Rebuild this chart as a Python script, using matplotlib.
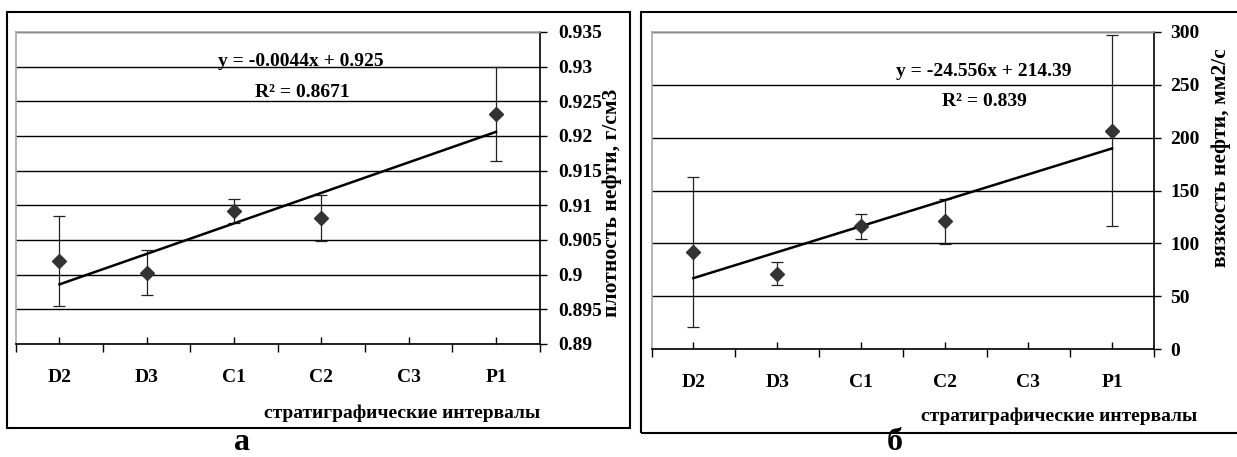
import numpy as np
import matplotlib
matplotlib.use("Agg")
import matplotlib.pyplot as plt
from matplotlib.ticker import MultipleLocator, FuncFormatter
from matplotlib.patches import Rectangle

plt.rcParams['font.family'] = ['Liberation Serif', 'DejaVu Serif']
plt.rcParams['font.weight'] = 'bold'

# ---- data ----
categories = ['D2', 'D3', 'C1', 'C2', 'C3', 'P1']
density = [0.902, 0.9003, 0.9092, 0.9082, np.nan, 0.9232]
density_err = [0.0065, 0.0033, 0.0017, 0.0033, np.nan, 0.0068]
viscosity = [91.7, 71.2, 116.3, 120.7, np.nan, 206.6]
viscosity_err = [71.2, 11.0, 11.9, 21.0, np.nan, 90.2]

dens_slope, dens_intercept, dens_r2 = -0.0044, 0.925, 0.8671
visc_slope, visc_intercept, visc_r2 = -24.556, 214.39, 0.839

W, H = 1237, 457
fig = plt.figure(figsize=(W / 100, H / 100), dpi=100)


def fx(px):
    return px / W


def fy(py):
    return 1 - py / H


FS = 14
YLFS = 15.5
GRAY = '#a8a8a8'
MARK = '#333333'

pos = np.arange(1, len(categories) + 1)


def make_panel(rect, vals, errs, slope, intercept, ylim, ystep, fmt, ypad,
               eq_text, r2_text, eq_xy, r2_xy, ylabel, ylabel_xy,
               xlabel_xy, letter, letter_xy, box):
    # outer frame
    fig.patches.append(Rectangle((fx(box[0]), fy(box[3])), fx(box[2] - box[0]),
                                 fy(box[1]) - fy(box[3]), transform=fig.transFigure,
                                 fill=False, edgecolor='black', linewidth=1.5))
    ax = fig.add_axes(rect)
    ax.set_xlim(0.5, len(categories) + 0.5)
    ax.set_ylim(*ylim)
    ax.set_axisbelow(True)
    ax.yaxis.set_major_locator(MultipleLocator(ystep))
    ax.yaxis.set_major_formatter(FuncFormatter(fmt))
    ax.yaxis.tick_right()
    ax.yaxis.grid(True, color='black', linewidth=1.0)
    ax.tick_params(axis='y', which='major', direction='out', length=5, width=1,
                   pad=ypad, labelsize=FS, right=True, left=False)
    # x ticks: boundaries outward, categories inward with labels
    ax.set_xticks(np.arange(0.5, len(categories) + 1, 1.0))
    ax.set_xticklabels([])
    ax.set_xticks(pos, minor=True)
    ax.set_xticklabels(categories, minor=True)
    ax.tick_params(axis='x', which='major', direction='out', length=6, width=1)
    ax.tick_params(axis='x', which='minor', direction='in', length=5, width=1,
                   pad=18, labelsize=FS)
    for s in ('left', 'top'):
        ax.spines[s].set_color(GRAY)
        ax.spines[s].set_linewidth(1.2)
    ax.spines['bottom'].set_color('black')
    ax.spines['right'].set_color('black')
    ax.spines['bottom'].set_linewidth(1.2)
    ax.spines['right'].set_linewidth(1.2)

    v = np.array(vals, dtype=float)
    e = np.array(errs, dtype=float)
    m = ~np.isnan(v)
    ax.errorbar(pos[m], v[m], yerr=e[m], fmt='none', ecolor='#222222',
                elinewidth=0.9, capsize=4, capthick=0.9, zorder=3)
    ax.plot(pos[m], v[m], linestyle='none', marker='D', markersize=7.5,
            color=MARK, zorder=4)
    xr = np.array([pos[m][0], pos[m][-1]], dtype=float)
    ax.plot(xr, slope * (len(categories) + 1 - xr) + intercept, color='black',
            linewidth=1.8, zorder=3)

    fig.text(fx(eq_xy[0]), fy(eq_xy[1]), eq_text, ha='center', va='center', fontsize=FS)
    fig.text(fx(r2_xy[0]), fy(r2_xy[1]), r2_text, ha='center', va='center', fontsize=FS)
    fig.text(fx(ylabel_xy[0]), fy(ylabel_xy[1]), ylabel, rotation=90, ha='center',
             va='center', fontsize=YLFS)
    fig.text(fx(xlabel_xy[0]), fy(xlabel_xy[1]), 'стратиграфические интервалы',
             ha='right', va='center', fontsize=FS)
    fig.text(fx(letter_xy[0]), fy(letter_xy[1]), letter, ha='center', va='bottom',
             fontsize=23)
    return ax


def fmt_dens(v, p):
    return f'{round(v, 4):g}'


def fmt_visc(v, p):
    return f'{v:.0f}'


make_panel([fx(15.8), fy(344), fx(539.7) - fx(15.8), fy(32) - fy(344)],
           density, density_err, dens_slope, dens_intercept, (0.89, 0.935), 0.005,
           fmt_dens, 8, f'y = {dens_slope}x + {dens_intercept}', f'R² = {dens_r2}',
           (301, 61), (302, 92), 'плотность нефти, г/см3', (612, 203),
           (540, 413), 'а', (242, 456.5), (7, 12, 630, 428))

make_panel([fx(651.5), fy(349), fx(1154) - fx(651.5), fy(32) - fy(349)],
           viscosity, viscosity_err, visc_slope, visc_intercept, (0, 300), 50,
           fmt_visc, 6.5, f'y = {visc_slope}x + {visc_intercept}', f'R² = {visc_r2}',
           (984, 71), (984, 102), 'вязкость нефти, мм2/с', (1221, 158),
           (1197, 416), 'б', (895, 456.5), (641, 12, 1245, 433))

fig.savefig('out.png', dpi=100)
